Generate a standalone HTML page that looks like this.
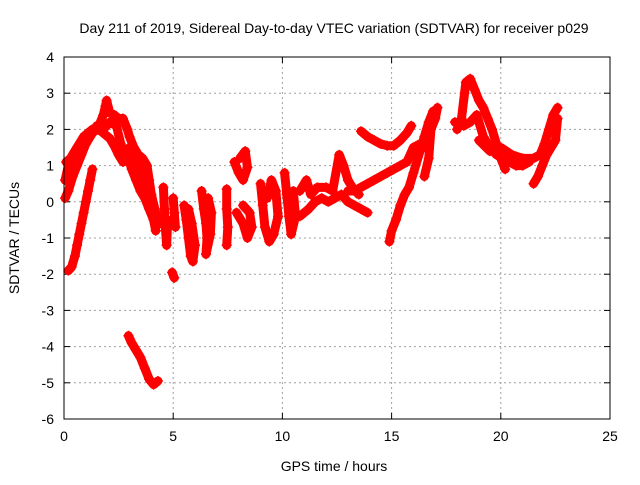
<!DOCTYPE html>
<html><head><meta charset="utf-8"><style>
body{margin:0;background:#fff;}
svg text{font-family:"Liberation Sans",sans-serif;font-size:14px;fill:#000;}
</style></head><body>
<svg id="chart" width="640" height="480" xmlns="http://www.w3.org/2000/svg">
<rect width="640" height="480" fill="#fff"/>
<text x="334" y="33" text-anchor="middle">Day 211 of 2019, Sidereal Day-to-day VTEC variation (SDTVAR) for receiver p029</text>
<text x="334" y="471" text-anchor="middle">GPS time / hours</text>
<text transform="translate(19,238) rotate(-90)" text-anchor="middle">SDTVAR / TECUs</text>
<g id="grid"></g><g id="ticks"></g><g id="marks"></g>
<rect x="64" y="57" width="546" height="362" fill="none" stroke="#000" stroke-width="1"/>
</svg>
<script>
const xTicks=[0,5,10,15,20,25];
const yTicks=[-6,-5,-4,-3,-2,-1,0,1,2,3,4];
const trackA=[[0.05,0.6],[0.2,1.0],[0.4,1.3],[0.6,1.5],[0.8,1.6],[1.0,1.75],[1.2,1.85],[1.4,1.95],[1.6,2.1],[1.8,2.4],[1.9,2.65],[1.95,2.8],[2.1,2.45],[2.3,2.4],[2.5,2.3],[2.7,2.3],[2.9,2.0],[3.0,1.8],[3.2,1.5],[3.4,1.3],[3.6,1.2],[3.8,1.0],[3.9,0.6],[4.0,0.2],[4.2,-0.3],[4.4,-0.6]];
const trackB=[[0.1,1.1],[0.3,1.2],[0.5,1.4],[0.7,1.6],[0.9,1.8],[1.1,1.9],[1.3,2.0],[1.5,2.0],[1.7,1.95],[1.9,1.85],[2.1,1.75],[2.3,1.55],[2.5,1.3],[2.7,1.1],[2.9,1.3],[3.1,0.9],[3.3,0.6],[3.5,0.3],[3.7,0.1],[3.9,-0.2],[4.1,-0.5],[4.2,-0.8]];
const trackC=[[0.05,0.1],[0.2,0.3],[0.4,0.7],[0.6,1.0],[0.8,1.3],[1.0,1.6],[1.2,1.8],[1.5,2.1],[1.8,2.0],[2.1,2.2],[2.4,2.1],[2.6,1.6],[2.8,1.2],[3.0,1.5],[3.3,1.2],[3.6,0.8],[3.8,0.3],[4.0,0.0]];
const trackD=[[0.2,-1.9],[0.35,-1.8],[0.5,-1.5],[0.6,-1.2],[0.7,-0.9],[0.8,-0.6],[0.9,-0.3],[1.0,0.0],[1.1,0.3],[1.2,0.6],[1.3,0.9]];
const trackE=[[2.95,-3.7],[3.1,-3.9],[3.3,-4.1],[3.5,-4.3],[3.7,-4.6],[3.9,-4.9],[4.1,-5.05],[4.3,-4.95]];
const trackF=[[4.95,-1.95],[5.05,-2.1]];
const trackG=[[4.55,0.4],[4.6,-0.2],[4.65,-0.8],[4.7,-1.2],[4.75,-0.5]];
const trackH=[[5.0,0.1],[5.05,-0.3],[5.1,-0.7]];
const trackI=[[5.5,-0.1],[5.6,-0.5],[5.7,-1.0],[5.8,-1.5],[5.9,-1.65],[6.0,-1.2],[5.85,-0.6],[5.7,-0.2]];
const trackJ=[[6.3,0.3],[6.4,-0.2],[6.5,-0.6],[6.55,-1.0],[6.5,-1.45],[6.7,-0.9],[6.75,-0.3],[6.6,0.1]];
const trackK=[[7.45,0.35],[7.45,-0.2],[7.5,-0.7],[7.45,-1.2]];
const trackL=[[7.8,1.1],[8.0,0.8],[8.2,0.6],[8.4,0.95],[8.3,1.4],[8.05,1.2]];
const trackM=[[7.9,-0.3],[8.2,-0.6],[8.4,-1.0],[8.6,-0.7],[8.5,-0.3],[8.2,-0.1]];
const trackN=[[9.0,0.5],[9.1,-0.1],[9.2,-0.7],[9.4,-1.1],[9.6,-0.9],[9.8,-0.4],[9.7,0.3],[9.5,0.6],[9.3,0.1]];
const trackO=[[10.1,0.8],[10.2,0.2],[10.3,-0.4],[10.4,-0.9],[10.6,-0.4],[10.5,0.3]];
const trackP=[[10.8,-0.4],[11.2,-0.2],[11.5,0.0],[11.8,0.1],[12.1,0.0],[12.4,0.1],[12.7,0.2],[13.0,0.0],[13.3,-0.1],[13.6,-0.2],[13.9,-0.3]];
const trackQ=[[10.8,0.3],[11.1,0.6],[11.3,0.2],[11.6,0.4],[12.0,0.4],[12.3,0.3],[12.6,1.3],[12.8,1.0],[13.0,0.6],[13.2,0.4],[13.5,0.2]];
const trackR=[[13.0,0.3],[13.3,0.3],[13.6,0.4],[13.9,0.5],[14.2,0.6],[14.5,0.7],[14.8,0.8],[15.1,0.9],[15.4,1.0],[15.7,1.1],[16.0,1.5],[16.3,1.6]];
const trackS=[[13.6,1.95],[13.9,1.8],[14.2,1.7],[14.5,1.6],[14.8,1.55],[15.1,1.55],[15.4,1.7],[15.7,1.9],[15.9,2.1]];
const trackT=[[14.9,-1.1],[15.0,-0.8],[15.2,-0.5],[15.4,-0.1],[15.6,0.2],[15.8,0.4],[16.0,0.8],[16.3,1.4],[16.5,1.8],[16.7,2.2],[16.9,2.5]];
const trackU=[[16.5,0.7],[16.7,1.2],[16.8,2.0],[17.0,2.3],[17.1,2.6]];
const trackV=[[18.0,2.0],[18.2,2.3],[18.4,3.3],[18.6,3.4],[18.8,3.1],[19.0,2.8],[19.2,2.6],[19.4,2.3],[19.6,2.0],[19.8,1.6],[20.0,1.2],[20.2,0.9]];
const trackW=[[17.9,2.2],[18.3,2.1],[18.6,2.2],[18.9,2.4],[19.2,1.8],[19.5,1.5],[19.8,1.3],[20.1,1.2],[20.4,1.1],[20.7,1.0],[21.0,1.0],[21.3,1.1]];
const trackX=[[19.0,1.7],[19.5,1.4],[20.0,1.5],[20.5,1.3],[21.0,1.2],[21.5,1.2],[21.8,1.3],[22.0,1.6],[22.2,2.0],[22.4,2.4],[22.6,2.6]];
const trackY=[[21.5,0.5],[21.7,0.7],[21.9,1.0],[22.1,1.3],[22.3,1.5],[22.5,1.7],[22.6,2.3]];
const tracks=[trackA,trackB,trackC,trackD,trackE,trackF,trackG,trackH,trackI,trackJ,trackK,trackL,trackM,trackN,trackO,trackP,trackQ,trackR,trackS,trackT,trackU,trackV,trackW,trackX,trackY];
const NS='http://www.w3.org/2000/svg';
const X0=64,X1=610,Y0=419,Y1=57;
function sx(v){return X0+(v-0)/(25-0)*(X1-X0);}
function sy(v){return Y0-(v+6)/(4+6)*(Y0-Y1);}
function mk(t,a,p){const e=document.createElementNS(NS,t);for(const k in a)e.setAttribute(k,a[k]);p.appendChild(e);return e;}
const grid=document.getElementById('grid'),ticks=document.getElementById('ticks'),marks=document.getElementById('marks');
xTicks.forEach(v=>{const x=sx(v);
 if(v>0&&v<25){const g=mk('line',{x1:x,x2:x,y1:Y1,y2:Y0,stroke:'#a0a0a0','stroke-dasharray':'2,3'},grid);
 
 }
 const t=mk('text',{x:x,y:Y0+22,'text-anchor':'middle'},ticks);t.textContent=v;
 
 
 mk('line',{x1:x,x2:x,y1:Y0,y2:Y0-6,stroke:'#000'},ticks);mk('line',{x1:x,x2:x,y1:Y1,y2:Y1+6,stroke:'#000'},ticks);});
yTicks.forEach(v=>{const y=sy(v);
 if(v>-6&&v<4){const g=mk('line',{x1:X0,x2:X1,y1:y,y2:y,stroke:'#a0a0a0','stroke-dasharray':'2,3'},grid);
 
 }
 const t=mk('text',{x:X0-10,y:y+5,'text-anchor':'end'},ticks);t.textContent=v;
 
 
 mk('line',{x1:X0,x2:X0+6,y1:y,y2:y,stroke:'#000'},ticks);mk('line',{x1:X1,x2:X1-6,y1:y,y2:y,stroke:'#000'},ticks);});
tracks.forEach((tr,i)=>{
 const g=mk('g',{},marks);
 
 
 mk('polyline',{points:tr.map(p=>sx(p[0])+','+sy(p[1])).join(' '),fill:'none',stroke:'#ff0000','stroke-width':9,'stroke-linejoin':'round','stroke-linecap':'round'},g);
 tr.forEach(p=>{const x=sx(p[0]),y=sy(p[1]);
  mk('path',{d:`M${x-5},${y}H${x+5}M${x},${y-5}V${y+5}`,stroke:'#ff0000','stroke-width':1.5},g);});
});
</script>
</body></html>
